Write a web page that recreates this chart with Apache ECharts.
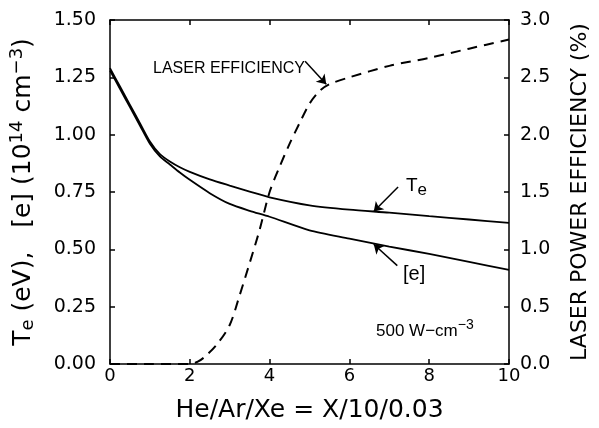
<!DOCTYPE html>
<html><head><meta charset="utf-8">
<script src="https://cdn.jsdelivr.net/npm/echarts@6/dist/echarts.min.js"></script>
<style>html,body{margin:0;padding:0;background:#fff}#c{width:599px;height:428px}</style>
</head><body><div id="c"></div>
<script>
const xCurve = [0, 0.25, 0.5, 0.75, 1, 1.25, 1.5, 1.75, 2, 2.5, 3, 3.5, 4, 5, 6, 7, 8, 9, 10];
const teVals = [1.29, 1.21, 1.13, 1.05, 0.97, 0.915, 0.883, 0.858, 0.838, 0.805, 0.778, 0.752, 0.727, 0.692, 0.673, 0.66, 0.645, 0.63, 0.615];
const eVals  = [1.28, 1.2, 1.12, 1.04, 0.96, 0.905, 0.87, 0.835, 0.803, 0.745, 0.698, 0.668, 0.642, 0.583, 0.547, 0.512, 0.48, 0.445, 0.41];
const xLaser = [0, 1, 2, 2.2, 2.4, 2.7, 3, 3.25, 3.5, 3.75, 4, 4.25, 4.5, 4.75, 5, 5.25, 5.5, 6, 7, 8, 9, 10];
const laserVals = [0, 0, 0, 0.02, 0.07, 0.18, 0.34, 0.6, 0.88, 1.17, 1.5, 1.72, 1.92, 2.1, 2.27, 2.38, 2.44, 2.5, 2.6, 2.67, 2.75, 2.83];
const xTicks = [0, 2, 4, 6, 8, 10];
const leftTicks = [0, 0.25, 0.5, 0.75, 1.0, 1.25, 1.5];
const rightTicks = [0, 0.5, 1.0, 1.5, 2.0, 2.5, 3.0];

const FONT = 'DejaVu Sans';
const pairs = (xs, ys) => xs.map((x, i) => [x, ys[i]]);
const chart = echarts.init(document.getElementById('c'));
const axisLine = {show: true, onZero: false, lineStyle: {color: '#000', width: 1.5}};
const tick = {show: true, inside: true, length: 5, lineStyle: {color: '#000', width: 1.5}};
const arrowStyle = {color: '#000', width: 1.5, type: 'solid'};

chart.setOption({
  animation: false,
  backgroundColor: '#fff',
  grid: {left: 109, right: 83, top: 20, bottom: 62},
  xAxis: [{
    type: 'value', min: xTicks[0], max: xTicks[xTicks.length - 1], interval: 2,
    axisLine: axisLine, axisTick: tick, splitLine: {show: false},
    axisLabel: {color: '#000', fontFamily: FONT, fontSize: 18, margin: 3},
    name: 'He/Ar/Xe = X/10/0.03', nameLocation: 'middle', nameGap: 34,
    nameTextStyle: {color: '#000', fontFamily: FONT, fontSize: 25}
  }, {
    type: 'value', position: 'top', min: 0, max: 10, interval: 2,
    axisLine: axisLine, axisTick: tick, axisLabel: {show: false}, splitLine: {show: false}
  }],
  yAxis: [{
    type: 'value', min: leftTicks[0], max: leftTicks[leftTicks.length - 1], interval: 0.25,
    axisLine: axisLine, axisTick: tick, splitLine: {show: false},
    axisLabel: {color: '#000', fontFamily: FONT, fontSize: 19, margin: 14, formatter: v => v.toFixed(2)},
    name: 'T{sub|e} (eV),   [e] (10{sup|14} cm{sup|−3})', nameLocation: 'middle', nameGap: 72,
    nameTextStyle: {color: '#000', fontFamily: FONT, fontSize: 25,
      rich: {sub: {fontFamily: FONT, fontSize: 18, color: '#000', padding: [10, 0, 0, 0]},
             sup: {fontFamily: FONT, fontSize: 18, color: '#000', padding: [0, 0, 12, 0]}}}
  }, {
    type: 'value', position: 'right', min: rightTicks[0], max: rightTicks[rightTicks.length - 1], interval: 0.5,
    axisLine: axisLine, axisTick: tick, splitLine: {show: false},
    axisLabel: {color: '#000', fontFamily: FONT, fontSize: 19, margin: 11, formatter: v => v.toFixed(1)},
    name: 'LASER POWER EFFICIENCY (%)', nameLocation: 'middle', nameGap: 60, nameRotate: 90,
    nameTextStyle: {color: '#000', fontFamily: FONT, fontSize: 22}
  }],
  series: [{
    type: 'line', name: 'Te', data: pairs(xCurve, teVals), smooth: 0.25, showSymbol: false,
    lineStyle: {color: '#000', width: 1.8},
    markLine: {silent: true, symbol: ['none', 'arrow'], symbolSize: 9, lineStyle: arrowStyle, label: {show: false},
      data: [[{coord: [7.22, 0.772]}, {coord: [6.61, 0.665]}], [{coord: [7.2, 0.429]}, {coord: [6.61, 0.522]}]]}
  }, {
    type: 'line', name: '[e]', data: pairs(xCurve, eVals), smooth: 0.25, showSymbol: false,
    lineStyle: {color: '#000', width: 1.8}
  }, {
    type: 'line', name: 'Laser', yAxisIndex: 1, data: pairs(xLaser, laserVals), smooth: 0.3, showSymbol: false,
    lineStyle: {color: '#000', width: 2, type: [10, 7]},
    markLine: {silent: true, symbol: ['none', 'arrow'], symbolSize: 9, lineStyle: arrowStyle, label: {show: false},
      data: [[{coord: [4.89, 2.64]}, {coord: [5.42, 2.44]}]]}
  }],
  graphic: [
    {type: 'text', left: 153, top: 61, style: {text: 'LASER EFFICIENCY', fill: '#000', font: '16px "Liberation Sans"'}},
    {type: 'text', left: 406, top: 176, style: {text: 'T{s|e}', fill: '#000', font: '19px "Liberation Sans"',
      rich: {s: {fontSize: 17, fontFamily: 'Liberation Sans', padding: [10, 0, 0, 0]}}}},
    {type: 'text', left: 403, top: 264, style: {text: '[e]', fill: '#000', font: '20px "Liberation Sans"'}},
    {type: 'text', left: 376, top: 318, style: {text: '500 W−cm{s|−3}', fill: '#000', font: '17px "Liberation Sans"',
      rich: {s: {fontSize: 14, fontFamily: 'Liberation Sans', padding: [0, 0, 12, 0]}}}}
  ]
});
</script></body></html>
